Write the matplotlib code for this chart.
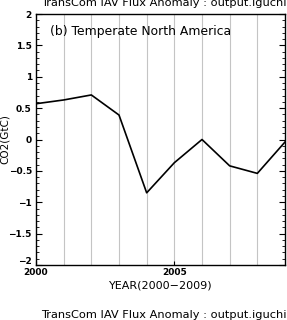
import matplotlib
matplotlib.use("Agg")
import matplotlib.pyplot as plt
import matplotlib.transforms as mtransforms
import numpy as np

# yearly flux anomaly, Temperate North America
years = [2000, 2001, 2002, 2003, 2004, 2005, 2006, 2007, 2008, 2009]
co2 = [0.57, 0.63, 0.71, 0.39, -0.85, -0.37, 0.0, -0.42, -0.54, -0.04]
xtick_years = [2000, 2005]
title = "TransCom IAV Flux Anomaly : output.iguchi"
region = "(b) Temperate North America"

plt.rcParams['font.family'] = ['DejaVu Sans']

fig = plt.figure(figsize=(2.87, 3.2), dpi=100)
ax = fig.add_axes([36 / 287, 55 / 320, 249 / 287, 251 / 320])

# gray vertical lines at each year
for yr in years[1:-1]:
    ax.axvline(yr, color='#c4c4c4', lw=0.8, zorder=1)

ax.plot(years, co2, color='black', lw=1.2, zorder=3)

ax.set_xlim(2000, 2009)
ax.set_ylim(-2, 2)
ax.set_xticks(xtick_years)
ax.set_xticklabels([str(y) for y in xtick_years], fontsize=6.5, fontweight='bold')
ax.set_yticks(np.arange(-2, 2.01, 0.5))
ax.set_yticklabels(['\u22122', '\u22121.5', '\u22121', '\u22120.5', '0', '0.5', '1', '1.5', '2'],
                   fontsize=6.5, fontweight='bold')
ax.set_yticks(np.arange(-2, 2.01, 0.1), minor=True)
ax.tick_params(axis='y', which='major', direction='in', length=4, width=0.8, right=True, pad=3)
ax.tick_params(axis='y', which='minor', direction='in', length=2, width=0.6, right=True)
ax.tick_params(axis='x', which='major', direction='in', length=3, width=0.8, pad=2)
for s in ax.spines.values():
    s.set_linewidth(1.0)

# lift the bottom "-2" a little so it sits above "2000"
lowest = ax.get_yticklabels()[0]
lowest.set_transform(lowest.get_transform() + mtransforms.ScaledTranslation(0, 3 / 72, fig.dpi_scale_trans))

ax.set_xlabel("YEAR(2000\u22122009)", fontsize=8, labelpad=3)
ax.set_ylabel("CO2(GtC)", fontsize=7.5)
ax.yaxis.set_label_coords(-0.105, 0.5)
ax.text(0.055, 0.93, region, transform=ax.transAxes, fontsize=8.9, va='center', ha='left')

fig.text(0.997, 1.0 - 3 / 320, title, fontsize=8.2, ha='right', va='center')
fig.text(0.997, 1.0 - 315 / 320, title, fontsize=8.2, ha='right', va='center')

fig.savefig("out.png", dpi=100)
